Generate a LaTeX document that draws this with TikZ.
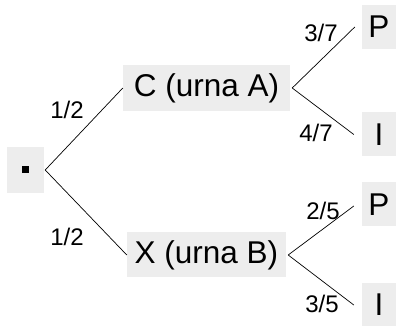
\documentclass[tikz,border=0pt]{standalone}
\usepackage{fontspec}
\setmainfont{Liberation Sans}
\begin{document}
\begin{tikzpicture}[x=1pt,y=-1pt,
  box/.style={fill=black!7,inner sep=0pt,font=\fontsize{31.5}{31.5}\selectfont},
  leaf/.style={box,minimum width=34pt,minimum height=44pt},
  prob/.style={inner sep=0pt,font=\fontsize{24}{24}\selectfont},
  branch/.style={draw=black,line width=0.7pt}]
\useasboundingbox (0,0) rectangle (397,326);
\node[box,minimum width=37pt,minimum height=46pt] (root) at (25.5,170) {\rule{7pt}{7pt}};
\node[box,minimum width=167pt,minimum height=46pt] (C) at (206.5,88) {C (urna A)};
\node[box,minimum width=159pt,minimum height=45pt] (X) at (206.5,255) {X (urna B)};
\node[leaf] (P1) at (379,27) {P};
\node[leaf] (I1) at (379,134.5) {I};
\node[leaf] (P2) at (379,204.5) {P};
\node[leaf] (I2) at (379,305) {I};
\draw[branch] ([xshift=1pt]root.east) -- (C.west);
\draw[branch] ([xshift=1pt]root.east) -- (X.west);
\draw[branch] ([xshift=2pt]C.east) -- ([xshift=-7pt]P1.west);
\draw[branch] ([xshift=2pt]C.east) -- ([xshift=-8pt]I1.west);
\draw[branch] ([xshift=2pt]X.east) -- ([xshift=-8pt,yshift=-1.5pt]P2.west);
\draw[branch] ([xshift=2pt]X.east) -- ([xshift=-8pt]I2.west);
\node[prob] (l1) at (67,110) {1/2};
\node[prob] (l2) at (67,237) {1/2};
\node[prob] (l3) at (321,33) {3/7};
\node[prob] (l4) at (316,133) {4/7};
\node[prob] (l5) at (323,211) {2/5};
\node[prob] (l6) at (322,304) {3/5};
\end{tikzpicture}
\end{document}
